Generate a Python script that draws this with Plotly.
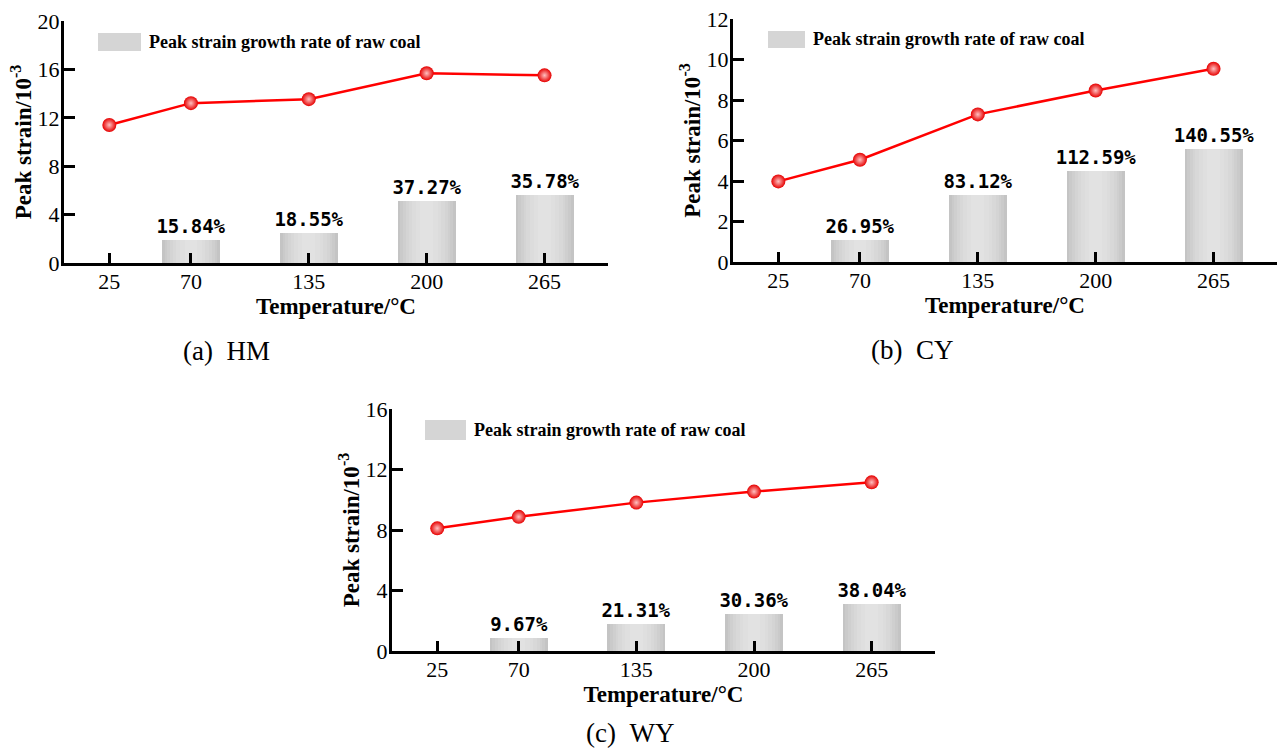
import plotly.graph_objects as go

W, H = 1288, 749

# ---------------- data ----------------
temps = [25, 70, 135, 200, 265]
bar_temps = [70, 135, 200, 265]
tick_labels = ["25", "70", "135", "200", "265"]

hm_strain = [11.41, 13.21, 13.54, 15.68, 15.51]
hm_bar = [1.86, 2.46, 5.09, 5.61]
hm_rate = ["15.84%", "18.55%", "37.27%", "35.78%"]

cy_strain = [3.98, 5.05, 7.29, 8.47, 9.54]
cy_bar = [1.10, 3.32, 4.49, 5.59]
cy_rate = ["26.95%", "83.12%", "112.59%", "140.55%"]

wy_strain = [8.11, 8.87, 9.81, 10.54, 11.15]
wy_bar = [0.85, 1.77, 2.47, 3.10]
wy_rate = ["9.67%", "21.31%", "30.36%", "38.04%"]

legend_text = "Peak strain growth rate of raw coal"
x_title = "Temperature/°C"
y_title = "Peak strain/10<sup>-3</sup>"
captions = ["(a)\u00a0\u00a0HM", "(b)\u00a0\u00a0CY", "(c)\u00a0\u00a0WY"]

# ---------------- layout helpers ----------------
def px_x(p):
    return p / W

def px_y(p):
    return 1 - p / H

panels = [
    dict(box=(64, 608, 21, 263), yr=20, dt=4, s=hm_strain, b=hm_bar, t=hm_rate,
         leg=(98, 141, 33, 51), cap=(226, 351)),
    dict(box=(733, 1277, 19, 262), yr=12, dt=2, s=cy_strain, b=cy_bar, t=cy_rate,
         leg=(768, 805, 31, 48), cap=(912, 350)),
    dict(box=(392, 935, 409, 651), yr=16, dt=4, s=wy_strain, b=wy_bar, t=wy_rate,
         leg=(425, 466, 420, 440), cap=(630, 733)),
]

serif = "Liberation Serif, Times New Roman, serif"
fig = go.Figure()
shapes, annotations = [], []

# stacked widths give a soft horizontal shading like the reference bars
bar_layers = [(32, "#c4c4c4"), (29, "#cacaca"), (26, "#cfcfcf"), (23, "#d4d4d4"),
              (20, "#d8d8d8"), (16, "#dcdcdc"), (12, "#dfdfdf"), (7, "#e2e2e2")]

for i, p in enumerate(panels, start=1):
    xa = "x" if i == 1 else f"x{i}"
    ya = "y" if i == 1 else f"y{i}"
    for k, (w, col) in enumerate(bar_layers):
        fig.add_trace(go.Bar(
            x=bar_temps, y=p["b"], width=w, xaxis=xa, yaxis=ya,
            marker=dict(color=col, line=dict(width=0)),
            text=p["t"] if k == 0 else None,
            textposition="outside" if k == 0 else "none",
            constraintext="none",
            textfont=dict(family="DejaVu Sans Mono, monospace", size=19,
                          color="black", weight="bold"),
            cliponaxis=False, showlegend=False, hoverinfo="skip",
        ))
    fig.add_trace(go.Scatter(
        x=temps, y=p["s"], xaxis=xa, yaxis=ya, mode="lines+markers",
        line=dict(color="#ff0000", width=2.5),
        marker=dict(size=14, color="#e60000",
                    gradient=dict(type="radial", color="#ffc0c0"),
                    line=dict(width=0)),
        showlegend=False, cliponaxis=False,
    ))
    x0, x1, yt, yb = p["box"]
    axis_common = dict(showline=True, linecolor="black", linewidth=3,
                       ticks="inside", tickcolor="black", tickwidth=3,
                       showgrid=False, zeroline=False, automargin=False,
                       tickfont=dict(family=serif, size=22, color="black"))
    fig.update_layout(**{
        ("xaxis" if i == 1 else f"xaxis{i}"): dict(
            domain=[px_x(x0), px_x(x1)], anchor=ya, range=[0, 300],
            tickvals=temps, ticktext=tick_labels, ticklen=10,
            title=dict(text=x_title, standoff=3,
                       font=dict(family=serif, size=23, color="black", weight="bold")),
            **axis_common),
        ("yaxis" if i == 1 else f"yaxis{i}"): dict(
            domain=[px_y(yb), px_y(yt)], anchor=xa, range=[0, p["yr"]],
            dtick=p["dt"], tick0=0, ticklen=11,
            title=dict(text=y_title, standoff=0,
                       font=dict(family=serif, size=23, color="black", weight="bold")),
            **axis_common),
    })
    lx0, lx1, ly0, ly1 = p["leg"]
    shapes.append(dict(type="rect", xref="paper", yref="paper",
                       x0=px_x(lx0), x1=px_x(lx1), y0=px_y(ly1), y1=px_y(ly0),
                       fillcolor="#d5d5d5", line=dict(width=0)))
    annotations.append(dict(xref="paper", yref="paper",
                            x=px_x(lx1 + 6), y=px_y((ly0 + ly1) / 2),
                            xanchor="left", yanchor="middle", showarrow=False,
                            text=legend_text,
                            font=dict(family=serif, size=18, color="black", weight="bold")))
    cx, cy = p["cap"]
    annotations.append(dict(xref="paper", yref="paper", x=px_x(cx), y=px_y(cy),
                            xanchor="center", yanchor="middle", showarrow=False,
                            text=captions[i - 1],
                            font=dict(family=serif, size=27, color="black")))

fig.update_layout(
    width=W, height=H, margin=dict(l=0, r=0, t=0, b=0, autoexpand=False),
    paper_bgcolor="white", plot_bgcolor="white",
    barmode="overlay", bargap=0,
    shapes=shapes, annotations=annotations,
)
try:
    fig.update_xaxes(ticklabelstandoff=-3)
    fig.update_yaxes(ticklabelstandoff=-3)
except Exception:
    pass

fig.write_html("out.html")
